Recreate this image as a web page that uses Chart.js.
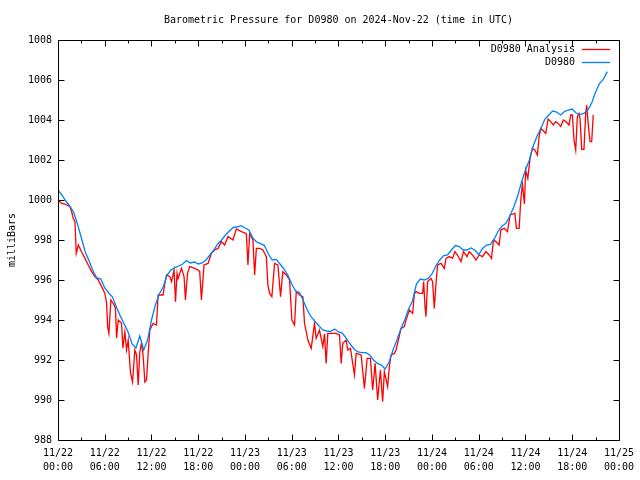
<!DOCTYPE html>
<html>
<head>
<meta charset="utf-8">
<script src="https://cdn.jsdelivr.net/npm/chart.js@4.4.1/dist/chart.umd.min.js"></script>
<style>
  html, body { margin: 0; padding: 0; background: #ffffff; }
  #chart { display: block; }
</style>
</head>
<body>
<canvas id="chart" width="640" height="480"></canvas>
<script>
// Hours since 2024-11-22 00:00 UTC
const xTickHours = [0, 6, 12, 18, 24, 30, 36, 42, 48, 54, 60, 66, 72];
const yTicks = [988, 990, 992, 994, 996, 998, 1000, 1002, 1004, 1006, 1008];

// D0980 observations, one reading every half hour
const obsStepHours = 0.5;
const obsValues = [
    1000.5, 1000.25, 999.95, 999.7, 999.4, 998.8, 998.1, 997.4, 996.95, 996.45,
    996.1, 996.05, 995.6, 995.35, 995.15, 994.65, 994.2, 993.8, 993.4, 992.8,
    992.6, 993.2, 992.5, 993.0, 994.0, 994.75, 995.3, 995.65, 996.25, 996.5,
    996.62, 996.7, 996.8, 996.97, 996.85, 996.9, 996.8, 996.85, 997.0, 997.25,
    997.5, 997.8, 998.0, 998.25, 998.45, 998.63, 998.65, 998.72, 998.6, 998.5,
    998.1, 997.9, 997.82, 997.72, 997.3, 997.0, 997.03, 996.8, 996.55, 996.25,
    995.8, 995.45, 995.37, 994.95, 994.5, 994.15, 993.92, 993.7, 993.5, 993.45,
    993.42, 993.55, 993.4, 993.35, 993.08, 992.8, 992.55, 992.4, 992.37, 992.37,
    992.25, 992.0, 991.83, 991.75, 991.55, 991.9, 992.5, 993.0, 993.55, 994.0,
    994.55, 994.95, 995.8, 996.05, 996.0, 996.08, 996.3, 996.7, 997.0, 997.22,
    997.25, 997.5, 997.72, 997.67, 997.5, 997.5, 997.6, 997.5, 997.27, 997.58,
    997.75, 997.78, 998.05, 998.45, 998.7, 998.83, 999.2, 999.65, 1000.2, 1000.9,
    1001.5, 1002.0, 1002.7, 1003.2, 1003.6, 1004.05, 1004.25, 1004.45, 1004.4, 1004.25,
    1004.42, 1004.5, 1004.55, 1004.35, 1004.27, 1004.33, 1004.5, 1004.85, 1005.4, 1005.82,
    1006.03, 1006.42
];

// D0980 Analysis, read at uneven times
const anaHours = [
    0, 0.47, 0.90, 1.54, 1.76, 1.96, 2.18, 2.34, 2.60, 3.04,
    3.46, 3.88, 4.32, 4.74, 5.16, 5.60, 6.02, 6.24, 6.37, 6.53,
    6.79, 7.08, 7.37, 7.52, 7.73, 8.16, 8.33, 8.58, 8.80, 9.01,
    9.31, 9.57, 9.86, 10.08, 10.29, 10.50, 10.72, 10.93, 11.15, 11.36,
    11.57, 11.79, 12.21, 12.64, 12.85, 13.49, 13.71, 13.93, 14.35, 14.57,
    14.90, 15.08, 15.28, 15.41, 15.85, 16.18, 16.36, 16.62, 16.91, 17.55,
    17.97, 18.19, 18.41, 18.74, 19.26, 19.69, 20.11, 20.54, 20.97, 21.39,
    21.82, 22.46, 22.89, 23.53, 24.17, 24.38, 24.60, 25.02, 25.24, 25.46,
    25.88, 26.30, 26.74, 26.94, 27.16, 27.45, 27.80, 28.22, 28.57, 28.86,
    29.30, 29.72, 30.02, 30.36, 30.58, 31.00, 31.43, 31.64, 31.86, 32.07,
    32.50, 32.92, 33.14, 33.56, 33.99, 34.21, 34.42, 34.63, 35.06, 35.70,
    36.13, 36.35, 36.55, 36.99, 37.19, 37.54, 38.05, 38.27, 38.91, 39.33,
    39.68, 40.10, 40.39, 40.70, 41.03, 41.38, 41.67, 41.89, 42.31, 42.53,
    42.75, 43.17, 43.39, 43.69, 44.03, 44.45, 44.67, 45.09, 45.52, 45.74,
    45.95, 46.38, 46.80, 46.93, 47.11, 47.23, 47.44, 47.87, 48.08, 48.30,
    48.52, 48.72, 49.16, 49.58, 49.80, 50.22, 50.64, 50.95, 51.28, 51.72,
    52.05, 52.49, 52.78, 53.20, 53.64, 54.06, 54.49, 54.92, 55.34, 55.64,
    55.90, 56.20, 56.62, 56.84, 57.27, 57.69, 58.03, 58.64, 58.84, 59.19,
    59.40, 59.61, 59.87, 60.02, 60.30, 60.60, 60.89, 61.20, 61.53, 61.75,
    61.97, 62.30, 62.61, 62.90, 63.25, 63.58, 63.89, 64.18, 64.53, 64.86,
    65.17, 65.59, 65.81, 66.02, 66.23, 66.45, 66.66, 66.87, 67.00, 67.22,
    67.51, 67.73, 67.86, 68.03, 68.28, 68.50, 68.70
];
const anaValues = [
    1000.0, 999.83, 999.8, 999.67, 999.4, 999.08, 998.9, 997.33, 997.75, 997.4,
    997.08, 996.75, 996.42, 996.17, 996.0, 995.67, 995.33, 994.83, 993.67, 993.33,
    995.0, 994.83, 994.6, 993.1, 994.0, 993.83, 992.6, 993.4, 992.5, 993.0,
    991.35, 990.9, 992.5, 992.25, 990.75, 992.4, 992.85, 992.2, 990.9, 991.0,
    992.3, 993.5, 993.83, 993.75, 995.25, 995.25, 995.83, 996.25, 996.17, 995.92,
    996.5, 994.92, 996.33, 996.08, 996.58, 996.17, 995.0, 996.33, 996.67, 996.58,
    996.5, 996.42, 995.0, 996.75, 996.83, 997.33, 997.5, 997.58, 997.92, 997.75,
    998.17, 998.0, 998.55, 998.42, 998.33, 996.75, 998.33, 998.0, 996.25, 997.58,
    997.58, 997.5, 997.17, 995.75, 995.33, 995.17, 996.83, 996.75, 995.17, 996.42,
    996.25, 996.0, 994.0, 993.75, 995.42, 995.25, 995.17, 993.83, 993.42, 993.0,
    992.58, 993.83, 993.08, 993.5, 992.67, 993.3, 991.83, 993.33, 993.33, 993.33,
    993.25, 991.83, 992.83, 993.0, 992.5, 992.58, 991.25, 992.33, 992.25, 990.58,
    992.08, 992.08, 990.5, 991.83, 990.0, 991.5, 989.92, 991.42, 990.67, 991.67,
    992.25, 992.33, 992.5, 993.0, 993.58, 993.67, 994.0, 994.5, 994.33, 995.3,
    995.42, 995.33, 995.33, 995.92, 994.67, 994.17, 995.92, 996.08, 995.92, 994.58,
    995.83, 996.75, 996.83, 996.58, 997.08, 997.17, 997.08, 997.42, 997.25, 996.92,
    997.42, 997.17, 997.42, 997.25, 997.0, 997.25, 997.17, 997.42, 997.25, 997.08,
    998.0, 997.92, 997.75, 998.5, 998.58, 998.42, 999.25, 999.33, 998.58, 998.58,
    1000.0, 1000.8, 999.8, 1001.5, 1001.08, 1002.1, 1002.58, 1002.5, 1002.25, 1003.17,
    1003.58, 1003.45, 1003.33, 1004.05, 1003.92, 1003.75, 1003.92, 1003.83, 1003.67, 1004.0,
    1003.92, 1003.75, 1004.25, 1004.25, 1003.0, 1002.5, 1004.17, 1004.33, 1004.08, 1002.53,
    1002.53, 1004.33, 1004.75, 1003.92, 1002.92, 1002.92, 1004.25
];

const seriesNames = ['D0980 Analysis', 'D0980'];
const seriesColors = ['#ff0000', '#0080ff'];
const chartTitle = 'Barometric Pressure for D0980 on 2024-Nov-22 (time in UTC)';

const monoFont = '"DejaVu Sans Mono", "Liberation Mono", monospace';

const anaPoints = anaHours.map((h, i) => ({ x: h, y: anaValues[i] }));
const obsPoints = obsValues.map((v, i) => ({ x: i * obsStepHours, y: v }));

function pad2(n) {
    return (n < 10 ? '0' : '') + n;
}

// two line tick label: date over time
function hourLabel(h) {
    const day = 22 + Math.floor(h / 24);
    return ['11/' + day, pad2(h % 24) + ':00'];
}

// frame, inward ticks on all four sides, title and key
const framePlugin = {
    id: 'frame',
    afterDraw(chart) {
        const ctx = chart.ctx;
        const a = chart.chartArea;
        const xs = chart.scales.x;
        const ys = chart.scales.y;
        const L = Math.round(a.left) + 0.5;
        const R = Math.round(a.right) + 0.5;
        const T = Math.round(a.top) + 0.5;
        const B = Math.round(a.bottom) + 0.5;
        ctx.save();
        ctx.strokeStyle = '#000000';
        ctx.lineWidth = 1;
        ctx.beginPath();
        ctx.rect(L, T, R - L, B - T);
        // x ticks, major every 6 h, minor every 3 h
        for (let h = 0; h <= 72; h += 3) {
            const px = Math.round(xs.getPixelForValue(h)) + 0.5;
            const len = (h % 6 === 0) ? 6 : 3;
            ctx.moveTo(px, B); ctx.lineTo(px, B - len);
            ctx.moveTo(px, T); ctx.lineTo(px, T + len);
        }
        yTicks.forEach(v => {
            const py = Math.round(ys.getPixelForValue(v)) + 0.5;
            ctx.moveTo(L, py); ctx.lineTo(L + 6, py);
            ctx.moveTo(R, py); ctx.lineTo(R - 6, py);
        });
        ctx.stroke();

        ctx.fillStyle = '#000000';
        ctx.font = '10px ' + monoFont;
        ctx.textBaseline = 'middle';
        ctx.textAlign = 'center';
        ctx.fillText(chartTitle, (a.left + a.right) / 2, 20);

        // key in the top right corner
        ctx.textAlign = 'right';
        const keyY = [49, 62];
        seriesNames.forEach((name, i) => {
            ctx.fillStyle = '#000000';
            ctx.fillText(name, 575, keyY[i]);
            ctx.strokeStyle = seriesColors[i];
            ctx.lineWidth = 1.3;
            ctx.beginPath();
            ctx.moveTo(582, keyY[i] + 0.5);
            ctx.lineTo(610, keyY[i] + 0.5);
            ctx.stroke();
        });
        ctx.restore();
    }
};

const ctx = document.getElementById('chart').getContext('2d');
const chart = new Chart(ctx, {
    type: 'line',
    data: {
        datasets: [
            {
                label: seriesNames[0],
                data: anaPoints,
                borderColor: seriesColors[0],
                borderWidth: 1.3,
                pointRadius: 0,
                tension: 0,
                order: 1
            },
            {
                label: seriesNames[1],
                data: obsPoints,
                borderColor: seriesColors[1],
                borderWidth: 1.3,
                pointRadius: 0,
                tension: 0,
                order: 0
            }
        ]
    },
    options: {
        responsive: false,
        animation: false,
        events: [],
        layout: { padding: { top: 40, right: 20, left: 0, bottom: 0 } },
        plugins: {
            legend: { display: false },
            tooltip: { enabled: false },
            title: { display: false }
        },
        scales: {
            x: {
                type: 'linear',
                min: 0,
                max: 72,
                afterFit: (s) => { s.height = 40; },
                afterBuildTicks: (s) => { s.ticks = xTickHours.map(v => ({ value: v })); },
                grid: { display: false, drawTicks: false },
                border: { display: false },
                ticks: {
                    color: '#000000',
                    font: { family: monoFont, size: 10, lineHeight: 1.4 },
                    padding: 6,
                    maxRotation: 0,
                    autoSkip: false,
                    callback: (v) => hourLabel(v)
                }
            },
            y: {
                min: 988,
                max: 1008,
                afterFit: (s) => { s.width = 58; },
                afterBuildTicks: (s) => { s.ticks = yTicks.map(v => ({ value: v })); },
                grid: { display: false, drawTicks: false },
                border: { display: false },
                ticks: {
                    color: '#000000',
                    font: { family: monoFont, size: 10 },
                    padding: 6,
                    callback: (v) => String(v)
                },
                title: {
                    display: true,
                    text: 'milliBars',
                    color: '#000000',
                    font: { family: monoFont, size: 10 },
                    padding: { top: 6, bottom: 0 }
                }
            }
        }
    },
    plugins: [framePlugin]
});
</script>
</body>
</html>
